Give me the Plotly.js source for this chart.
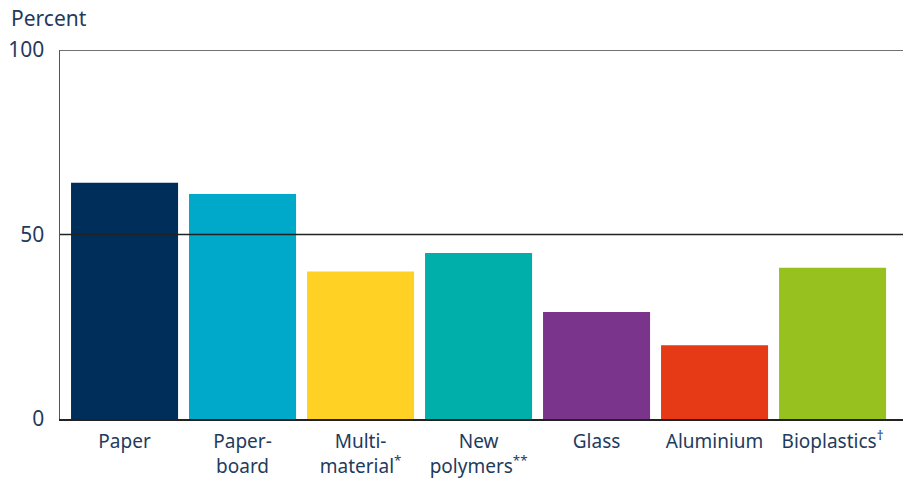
<!DOCTYPE html>
<html>
<head>
<meta charset="utf-8">
<script src="https://cdn.plot.ly/plotly-3.0.1.min.js"></script>
<style>html,body{margin:0;padding:0;background:#fff;}#chart{width:906px;height:479px;}</style>
</head>
<body>
<div id="chart"></div>
<script>
const categories = ["Paper", "Paper-<br>board", "Multi-<br>material<sup>*</sup>", "New<br>polymers<sup>**</sup>", "Glass", "Aluminium", "Bioplastics<sup>†</sup>"];
const values = [64, 61, 40, 45, 29, 20, 41];
const colors = ["#002E5B", "#00A9C9", "#FFD124", "#00AFAA", "#7A348C", "#E63A16", "#97C11F"];
const yTicks = [0, 50, 100];
const yTitle = "Percent";

const textColor = "#1F3B5E";
const font = "Noto Sans, sans-serif";

const trace = {
  type: "bar",
  x: categories.map((c, i) => i),
  y: values,
  marker: {color: colors, line: {width: 0}},
  hoverinfo: "none"
};

const layout = {
  width: 906, height: 479,
  margin: {l: 60, r: 3, t: 50, b: 60},
  paper_bgcolor: "#fff", plot_bgcolor: "#fff",
  bargap: 0.093,
  showlegend: false,
  font: {family: font, color: textColor, size: 19},
  xaxis: {
    range: [-0.547, 6.597],
    tickmode: "array",
    tickvals: categories.map((c, i) => i),
    ticktext: categories,
    showgrid: false, zeroline: false,
    showline: true, linecolor: "#222", linewidth: 2,
    ticks: "outside", ticklen: 4, tickcolor: "rgba(0,0,0,0)",
    tickfont: {size: 19, color: textColor, family: font},
    fixedrange: true
  },
  yaxis: {
    range: [0, 100],
    tickmode: "array",
    tickvals: yTicks,
    ticktext: yTicks.map(String),
    showgrid: false,
    zeroline: false,
    showline: true, linecolor: "#555", linewidth: 1.5,
    ticks: "outside", ticklen: 10, tickcolor: "rgba(0,0,0,0)",
    tickfont: {size: 21, color: textColor, family: font},
    fixedrange: true
  },
  shapes: [50, 100].map(v => ({
    type: "line", xref: "paper", yref: "y", x0: 0, x1: 1, y0: v, y1: v,
    line: {color: v === 50 ? "#222" : "#444", width: 1.5}, layer: "above"
  })),
  annotations: [{
    text: yTitle, xref: "paper", yref: "paper",
    x: 0, y: 1, xshift: -51, yshift: 32,
    xanchor: "left", yanchor: "middle", showarrow: false,
    font: {size: 21, color: textColor, family: font}
  }]
};

Plotly.newPlot("chart", [trace], layout, {displayModeBar: false, staticPlot: true});
</script>
</body>
</html>
